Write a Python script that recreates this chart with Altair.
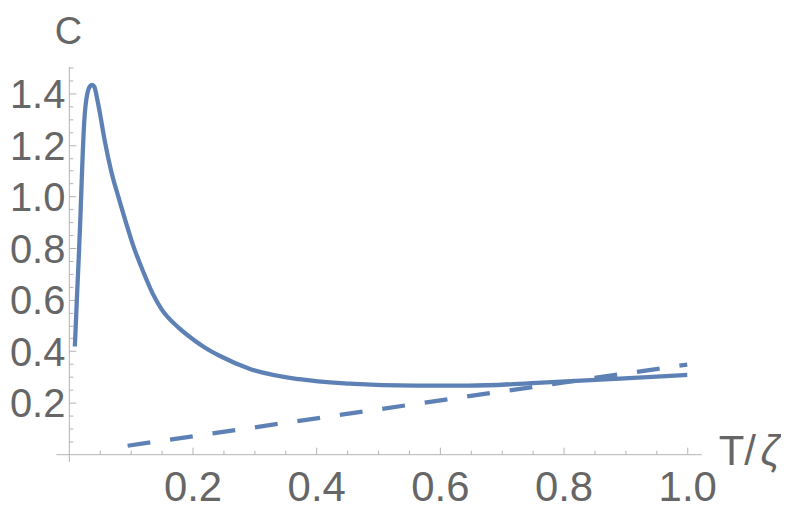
import altair as alt
import pandas as pd

# Solid curve C(T/zeta)
t_solid = [0.0097, 0.0129, 0.0161, 0.0186, 0.0205, 0.0223, 0.0239, 0.0258, 0.0282,
           0.0311, 0.0344, 0.0376, 0.0411, 0.0463, 0.05, 0.0576, 0.0682, 0.0802,
           0.0931, 0.1027, 0.1218, 0.135, 0.1495, 0.1779, 0.2005, 0.221, 0.2436,
           0.2919, 0.3726, 0.4532, 0.5608, 0.6468, 0.7489, 0.8834, 1.0]
c_solid = [0.418, 0.599, 0.769, 0.916, 1.043, 1.159, 1.248, 1.322, 1.376,
           1.411, 1.428, 1.433, 1.426, 1.372, 1.326, 1.221, 1.101, 0.997,
           0.893, 0.819, 0.699, 0.626, 0.564, 0.490, 0.446, 0.412, 0.382,
           0.332, 0.291, 0.274, 0.266, 0.266, 0.276, 0.292, 0.308]

# Dashed asymptote
t_dash = [0.095, 1.0]
c_dash = [0.033, 0.348]

x_labels = [0.2, 0.4, 0.6, 0.8, 1.0]
y_labels = [0.2, 0.4, 0.6, 0.8, 1.0, 1.2, 1.4]
x_ticks = [round(0.05 * k, 2) for k in range(1, 21)]
y_ticks = [round(0.05 * k, 2) for k in range(1, 31)]

solid_df = pd.DataFrame({"t": t_solid, "c": c_solid})
dash_df = pd.DataFrame({"t": t_dash, "c": c_dash})

LINE = "#5E81B5"
AXC = "#b4b4b4"
LAB = "#666666"
FONT = "Liberation Sans"

xs = alt.Scale(domain=[-0.021, 1.0226], nice=False, zero=False)
ys = alt.Scale(domain=[-0.028, 1.504], nice=False, zero=False)

major_test = "abs(datum.value*5 - round(datum.value*5)) < 0.000001"
tick_size = {"condition": {"test": major_test, "value": 7}, "value": 4}

solid = alt.Chart(solid_df).mark_line(
    color=LINE, strokeWidth=4.3, interpolate="monotone"
).encode(
    x=alt.X("t:Q", scale=xs, axis=alt.Axis(
        orient="bottom", offset=-7.3, values=x_labels, format=".1f",
        ticks=False, tickSize=0, domain=False, grid=False,
        labelFont=FONT, labelFontSize=42, labelColor=LAB,
        labelBaseline="alphabetic", labelPadding=46,
        title="T/", titleFont=FONT, titleFontSize=42, titleColor=LAB,
        titleFontWeight="normal", titleX=664, titleY=10.3,
        titleAlign="left", titleBaseline="alphabetic", titleAngle=0)),
    y=alt.Y("c:Q", scale=ys, axis=alt.Axis(
        orient="left", offset=-13, values=y_labels, format=".1f",
        ticks=False, tickSize=0, domain=False, grid=False,
        labelFont=FONT, labelFontSize=40, labelColor=LAB,
        labelBaseline="alphabetic", labelOffset=14.3, labelPadding=4,
        title="C", titleFont=FONT, titleFontSize=38, titleColor=LAB,
        titleFontWeight="normal", titleX=-1, titleY=-23,
        titleAlign="center", titleBaseline="alphabetic", titleAngle=0)),
)

dashed = alt.Chart(dash_df).mark_line(
    color=LINE, strokeWidth=4.3, strokeDash=[23, 20]
).encode(
    x=alt.X("t:Q", scale=xs, axis=alt.Axis(
        orient="top", offset=-388.7, values=x_ticks, labels=False,
        ticks=True, tickSize=tick_size, tickColor=AXC, tickWidth=1,
        domain=True, domainColor=AXC, domainWidth=1, grid=False,
        title="ζ", titleFont=FONT, titleFontSize=42, titleColor=LAB,
        titleFontStyle="italic", titleFontWeight="normal",
        titleX=706, titleY=10.3, titleAlign="left",
        titleBaseline="alphabetic", titleAngle=0)),
    y=alt.Y("c:Q", scale=ys, axis=alt.Axis(
        orient="right", offset=-634, values=y_ticks, labels=False,
        ticks=True, tickSize=tick_size, tickColor=AXC, tickWidth=1,
        domain=True, domainColor=AXC, domainWidth=1, grid=False,
        title=None)),
)

chart = alt.layer(solid, dashed).resolve_axis(
    x="independent", y="independent"
).properties(
    width=647, height=396,
    autosize=alt.AutoSizeParams(type="none"),
    padding={"left": 48, "top": 58, "right": 80, "bottom": 50},
    background="white",
).configure_view(stroke=None)

chart.save("out.html", embed_options={"renderer": "svg", "actions": False})
